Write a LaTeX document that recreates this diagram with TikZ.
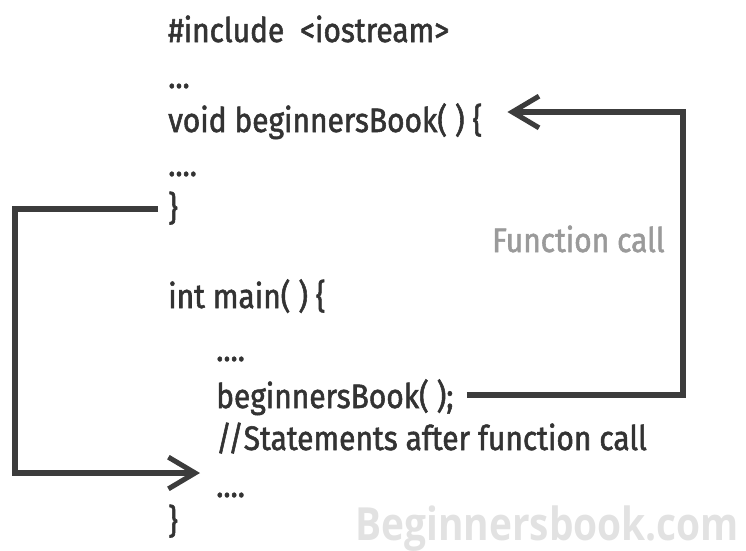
\documentclass[tikz,border=0pt]{standalone}
\usepackage{fontspec}
\newfontfamily\codefont[FakeStretch=0.88,FakeBold=1.6]{Fira Sans}
\newfontfamily\markfont[FakeStretch=0.85]{Open Sans}
\usetikzlibrary{arrows.meta}
\usetikzlibrary{calc}
\definecolor{codegray}{HTML}{333333}
\definecolor{linegray}{HTML}{3C3C3C}
\definecolor{labelgray}{HTML}{9A9A9A}
\definecolor{markgray}{HTML}{E2E2E2}

\begin{document}
\begin{tikzpicture}[x=0.03cm,y=-0.03cm,
	code/.style={anchor=base west,inner sep=0pt,text=codegray,font=\codefont\fontsize{29}{29}\selectfont},
	flow/.style={draw=linegray,line width=4.3pt,-{Straight Barb[length=8mm,width=9.5mm]}}]
	\useasboundingbox (0,0) rectangle (746,550);

	% the function
	\node[code] at (168,42) (inc) {\#include\ \ <iostream>};
	\node[code] at (168,88) (d1) {...};
	\node[code] at (168,132) (fun) {void beginnersBook( ) \{};
	\node[code] at (168,176) (d2) {....};
	\node[code] at (168,220) (cl1) {\}};

	% main
	\node[code] at (168,308) (main) {int main( ) \{};
	\node[code] at (216,361) (d3) {....};
	\node[code] at (216,408) (call) {beginnersBook( );};
	\node[code] at (216,450) (stmt) {//Statements after function call};
	\node[code] at (216,497) (d4) {....};
	\node[code] at (168,533) (cl2) {\}};

	\node[code,text=labelgray] at (492,252) (fc) {Function call};
	\node[anchor=base west,inner sep=0pt,text=markgray,font=\markfont\bfseries\fontsize{39}{39}\selectfont] at (355,540) (mark) {Beginnersbook.com};

	\coordinate (rt) at (683,250);
	\coordinate (lf) at (15,340);

	\draw[flow] ($(call.base east)+(13,-13)$) -| (rt) |- ($(fun.base east)+(25,-20)$);
	\draw[flow] ($(cl1.base west)+(-10,-11)$) -| (lf) |- ($(d4.base west)+(-16,-24)$);
\end{tikzpicture}
\end{document}
